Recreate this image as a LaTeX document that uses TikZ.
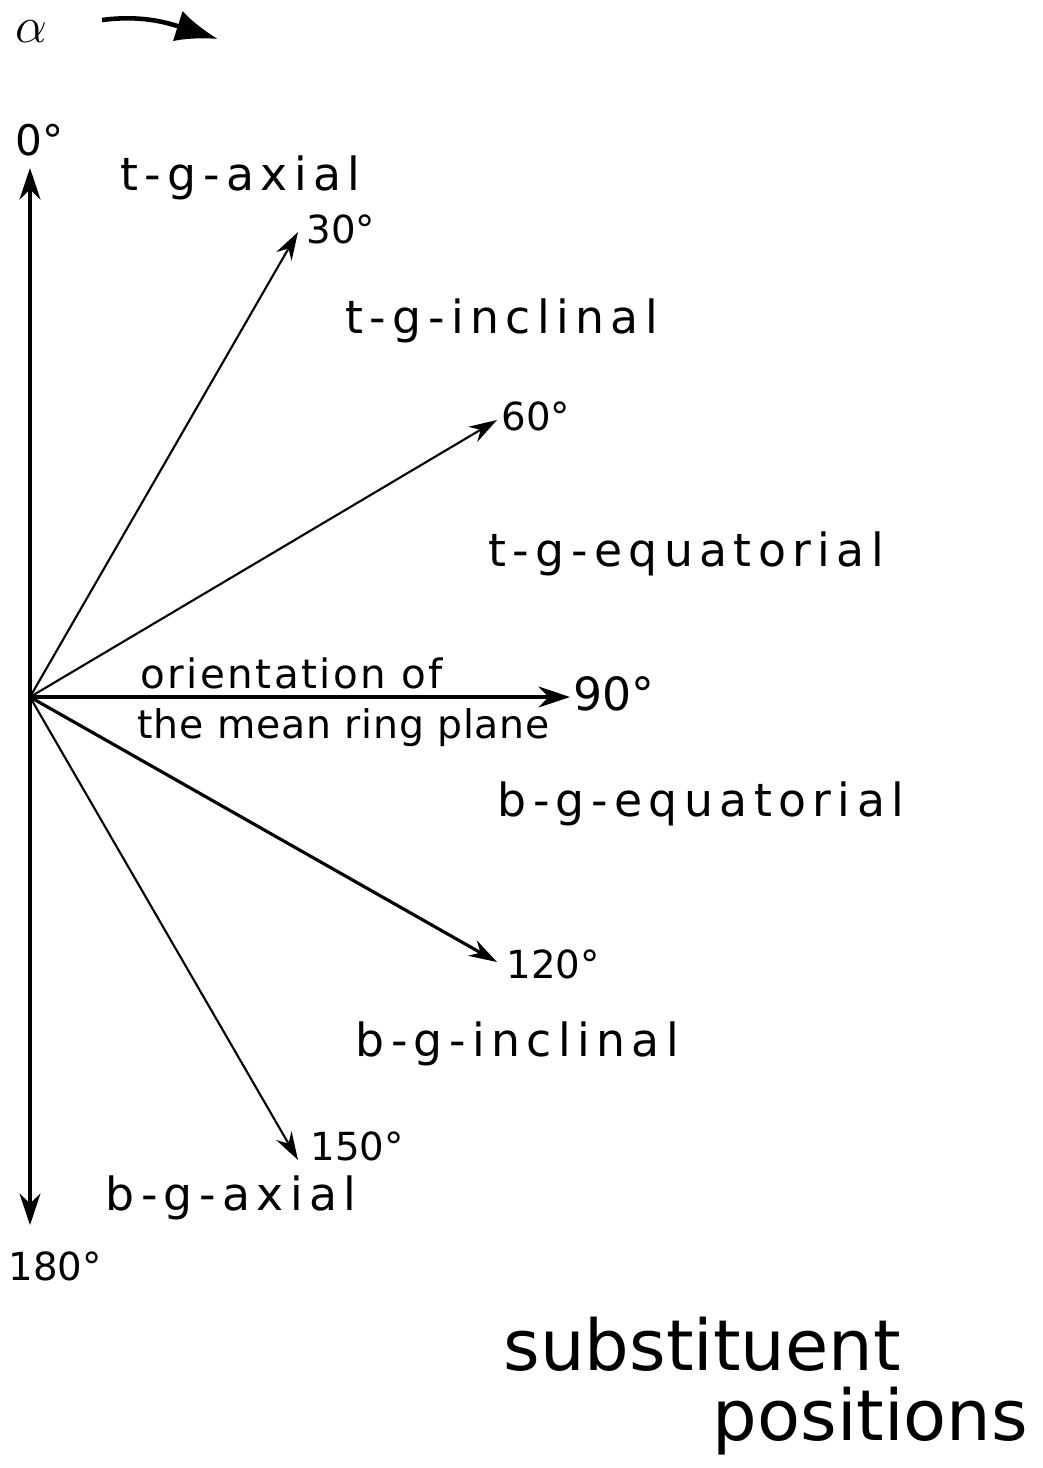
\documentclass[tikz,border=0pt]{standalone}
\usepackage{fontspec}
\setmainfont{DejaVu Sans}
\newfontfamily\handfont[LetterSpace=14]{DejaVu Sans}
\newfontfamily\handfontb[LetterSpace=6]{DejaVu Sans}
\newfontfamily\handfontc[LetterSpace=2]{DejaVu Sans}
\usetikzlibrary{arrows.meta}
\begin{document}
\begin{tikzpicture}[x=0.01cm,y=-0.01cm,
  lbl/.style={anchor=base west,inner sep=0pt,font=\handfont\fontsize{13}{15}\selectfont},
  lblb/.style={anchor=base west,inner sep=0pt,font=\handfontb\fontsize{11.5}{13}\selectfont},
  lblc/.style={anchor=base west,inner sep=0pt,font=\handfontc\fontsize{11.2}{13}\selectfont},
  deg/.style={anchor=base west,inner sep=0pt,font=\fontsize{11}{13}\selectfont},
  big/.style={anchor=base west,inner sep=0pt,font=\fontsize{20}{24}\selectfont},
  axis/.style={line width=0.9pt,-{Stealth[length=9pt,width=6pt]}},
  ray/.style={line width=0.6pt,-{Stealth[length=8pt,width=5pt]}}]
\useasboundingbox (0,0) rectangle (1043,1468);
% origin and tips
\coordinate (O) at (30,697);
\coordinate (T0) at (30,168);
\coordinate (T180) at (30,1225);
\coordinate (T30) at (298,232);
\coordinate (T60) at (497,420);
\coordinate (T90) at (570,697);
\coordinate (T120) at (497,962);
\coordinate (T150) at (298,1160);
\draw[axis] (O) -- (T0);
\draw[axis] (O) -- (T180);
\draw[ray] (O) -- (T30);
\draw[ray] (O) -- (T60);
\draw[axis] (O) -- (T90);
\draw[line width=0.9pt,-{Stealth[length=8pt,width=5pt]}] (O) -- (T120);
\draw[ray] (O) -- (T150);
% alpha with curved arrow
\node[anchor=base west,inner sep=0pt,font=\fontsize{15}{18}\selectfont] (alpha) at (15,42) {$\alpha$};
\coordinate (A1) at (102,20);
\coordinate (A2) at (218,39);
\draw[line width=1.3pt,-{Latex[length=12pt,width=9pt]}] (A1) .. controls (140,15) and (165,22) .. (A2);
% degree labels
\node[deg,font=\fontsize{12}{14}\selectfont] (l0) at (15,155) {0°};
\node[deg] (l30) at (306,243) {30°};
\node[deg] (l60) at (501,430) {60°};
\node[deg,font=\fontsize{13}{15}\selectfont] (l90) at (573,710) {90°};
\node[deg] (l120) at (506,978) {120°};
\node[deg] (l150) at (310,1160) {150°};
\node[deg] (l180) at (8,1280) {180°};
% region labels
\node[lbl] (tga) at (120,190) {t-g-axial};
\node[lbl] (tgi) at (345,333) {t-g-inclinal};
\node[lbl] (tge) at (488,566) {t-g-equatorial};
\node[lblb] (or1) at (140,688) {orientation of};
\node[lblc] (or2) at (137,738) {the mean ring plane};
\node[lbl] (bge) at (497,816) {b-g-equatorial};
\node[lbl] (bgi) at (355,1056) {b-g-inclinal};
\node[lbl] (bga) at (105,1210) {b-g-axial};
% title
\node[big] (sub) at (503,1370) {substituent};
\node[big] (pos) at (712,1440) {positions};
\end{tikzpicture}
\end{document}
